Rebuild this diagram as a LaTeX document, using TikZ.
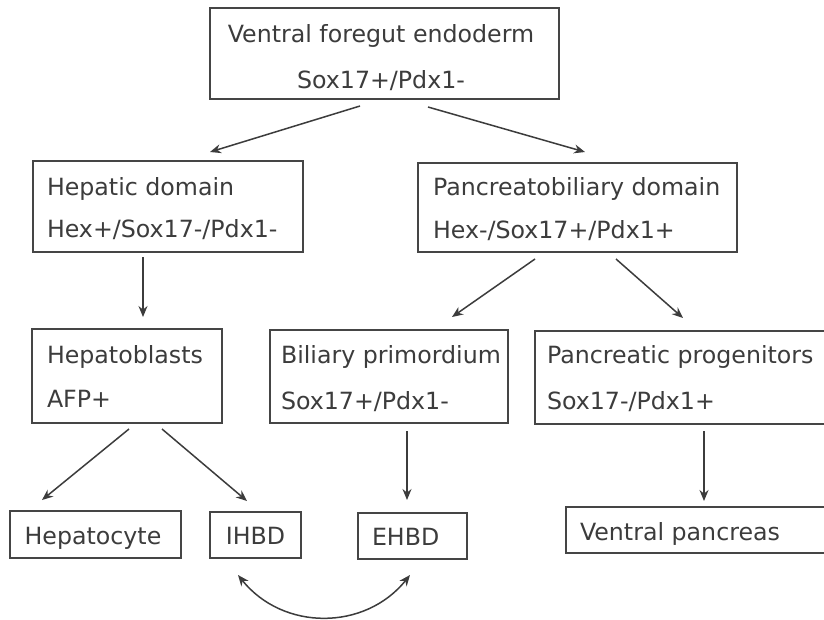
\documentclass[tikz,border=0pt]{standalone}
\usepackage{fontspec}
\setmainfont{DejaVu Sans}
\usetikzlibrary{arrows.meta,calc}
\definecolor{ink}{HTML}{3C3C3C}
\definecolor{frame}{HTML}{454545}
\begin{document}
\begin{tikzpicture}[x=1pt,y=-1pt,
  box/.style={draw=frame,line width=1.7pt,rectangle,anchor=north west,inner sep=0pt,outer sep=0pt},
  lbl/.style={text=ink,inner sep=0pt,outer sep=0pt,font=\fontsize{23.7}{29}\selectfont},
  arr/.style={draw=ink,line width=1.5pt,-{Stealth[length=11pt,width=9pt]}},
  twoway/.style={draw=ink,line width=1.5pt,{Stealth[length=11pt,width=9pt]}-{Stealth[length=11pt,width=9pt]}},
  ]
\useasboundingbox (0,0) rectangle (824,619);
\fill[white] (0,0) rectangle (824,619);

% frames
\node[box,minimum width=349pt,minimum height=91pt] (top)  at (210,8)   {};
\node[box,minimum width=270pt,minimum height=91pt] (hep)  at (33,161)  {};
\node[box,minimum width=319pt,minimum height=89pt] (pb)   at (418,163) {};
\node[box,minimum width=190pt,minimum height=94pt] (hb)   at (32,329)  {};
\node[box,minimum width=238pt,minimum height=93pt] (bil)  at (270,330) {};
\node[box,minimum width=300pt,minimum height=93pt] (pp)   at (535,331) {};
\node[box,minimum width=171pt,minimum height=47pt] (hc)   at (10,511)  {};
\node[box,minimum width=91pt,minimum height=46pt]  (ihbd) at (210,512) {};
\node[box,minimum width=109pt,minimum height=46pt] (ehbd) at (358,513) {};
\node[box,minimum width=270pt,minimum height=46pt] (vp)   at (566,507) {};

% labels
\node[lbl,anchor=base] (top-a) at (381,42) {Ventral foregut endoderm};
\node[lbl,anchor=base] (top-b) at (381,88) {Sox17+/Pdx1-};
\node[lbl,anchor=base west] (hep-a) at (47,195) {Hepatic domain};
\node[lbl,anchor=base west] (hep-b) at (47,237) {Hex+/Sox17-/Pdx1-};
\node[lbl,anchor=base west] (pb-a) at (433,195) {Pancreatobiliary domain};
\node[lbl,anchor=base west] (pb-b) at (433,238) {Hex-/Sox17+/Pdx1+};
\node[lbl,anchor=base west] (hb-a) at (47,363) {Hepatoblasts};
\node[lbl,anchor=base west] (hb-b) at (47,407) {AFP+};
\node[lbl,anchor=base west] (bil-a) at (281,363) {Biliary primordium};
\node[lbl,anchor=base west] (bil-b) at (281,409) {Sox17+/Pdx1-};
\node[lbl,anchor=base west] (pp-a) at (547,363) {Pancreatic progenitors};
\node[lbl,anchor=base west] (pp-b) at (547,409) {Sox17-/Pdx1+};
\node[lbl,anchor=base] (hc-a) at (93,544) {Hepatocyte};
\node[lbl,anchor=base] (ihbd-a) at (255.5,544) {IHBD};
\node[lbl,anchor=base west] (ehbd-a) at (372,545) {EHBD};
\node[lbl,anchor=base west] (vp-a) at (580,540) {Ventral pancreas};

% lineage arrows
\draw[arr] ($(top.south west)+(150,7)$) -- ($(hep.north west)+(177,-9)$);
\draw[arr] ($(top.south west)+(218,8)$) -- ($(pb.north west)+(167,-11)$);
\draw[arr] ($(hep.south west)+(110,5)$) -- ($(hb.north west)+(111,-12)$);
\draw[arr] ($(pb.south west)+(117,7)$) -- ($(bil.north west)+(182,-13)$);
\draw[arr] ($(pb.south west)+(198,7)$) -- ($(pp.north west)+(148,-13)$);
\draw[arr] ($(hb.south west)+(97,6)$) -- ($(hc.north west)+(32,-11)$);
\draw[arr] ($(hb.south west)+(130,6)$) -- ($(ihbd.north west)+(37,-11)$);
\draw[arr] ($(bil.south west)+(137,8)$) -- ($(ehbd.north west)+(49,-13)$);
\draw[arr] ($(pp.south west)+(169,7)$) -- ($(vp.north west)+(138,-6)$);

% exchange between intra- and extrahepatic ducts
\coordinate (duct-l) at ($(ihbd.south west)+(28,17)$);
\coordinate (duct-r) at ($(ehbd.south west)+(52,16)$);
\draw[twoway] (duct-l) .. controls ($(duct-l)+(45,56)$) and ($(duct-r)+(-45,56)$) .. (duct-r);
\end{tikzpicture}
\end{document}
